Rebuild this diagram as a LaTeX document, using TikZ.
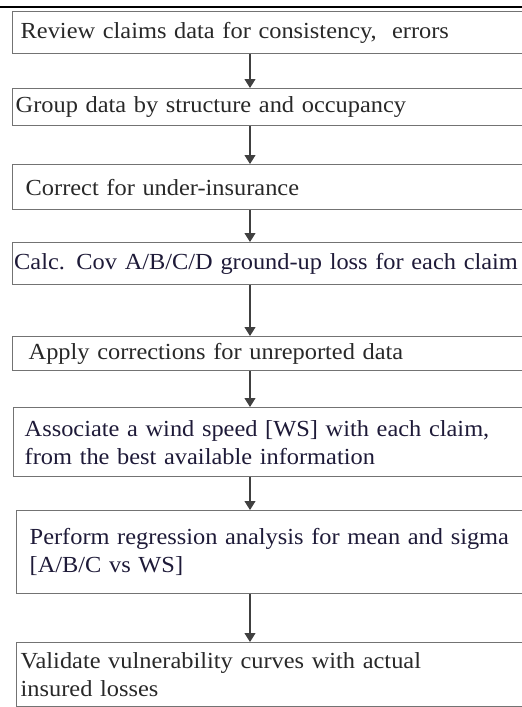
\documentclass[tikz,border=0pt]{standalone}
\usepackage{fontspec}
\setmainfont{Liberation Serif}[FakeStretch=1.06]
\usepackage{xcolor}
\usetikzlibrary{arrows.meta, positioning}
\definecolor{edge}{RGB}{115, 115, 115}
\definecolor{ink}{RGB}{40, 40, 40}
\definecolor{navy}{RGB}{30, 26, 56}
\tikzset{
    stepbox/.style={rectangle, draw=edge, line width=1.4pt, anchor=north west, align=left, text width=560pt, inner ysep=0pt, font=\fontsize{23}{28}\selectfont, text=ink},
    arr/.style={-{Triangle[width=11pt, length=9pt]}, line width=1.1pt, draw=black!75}
}

\begin{document}
\begin{tikzpicture}[x=1pt, y=-1pt]
        \useasboundingbox (0,0) rectangle (522,707);
        \clip (0,0) rectangle (522,707);
        \draw[line width=2.5pt, black] (0,7) -- (522,7);
        \coordinate (spine) at (250,0);
        \node[stepbox, inner xsep=8pt, minimum height=42pt] (review) at (12,11) {Review claims data for consistency,\ \ errors};
        \node[stepbox, inner xsep=3pt, minimum height=37pt] (group) at (12,88) {Group data by structure and occupancy};
        \node[stepbox, inner xsep=13pt, minimum height=45pt] (under) at (12,164) {Correct for under-insurance};
        \node[stepbox, inner xsep=1.5pt, minimum height=42pt, text=navy] (calc) at (12,242) {Calc. Cov A/B/C/D ground-up loss for each claim};
        \node[stepbox, inner xsep=16pt, minimum height=34pt] (unrep) at (12,336) {Apply corrections for unreported data};
        \node[stepbox, inner xsep=11pt, minimum height=69pt, text=navy] (wind) at (13,407) {Associate a wind speed [WS] with each claim,\\from the best available information};
        \node[stepbox, inner xsep=13pt, minimum height=83pt, text=navy] (regr) at (16,510) {Perform regression analysis for mean and sigma\\{[A/B/C vs WS]}};
        \node[stepbox, inner xsep=4pt, minimum height=64pt] (valid) at (16,642) {Validate vulnerability curves with actual\\insured losses};
        \draw[arr] (review.south -| spine) -- (group.north -| spine);
        \draw[arr] (group.south -| spine) -- (under.north -| spine);
        \draw[arr] (under.south -| spine) -- (calc.north -| spine);
        \draw[arr] (calc.south -| spine) -- (unrep.north -| spine);
        \draw[arr] (unrep.south -| spine) -- (wind.north -| spine);
        \draw[arr] (wind.south -| spine) -- (regr.north -| spine);
        \draw[arr] (regr.south -| spine) -- (valid.north -| spine);
    \end{tikzpicture}
\end{document}
